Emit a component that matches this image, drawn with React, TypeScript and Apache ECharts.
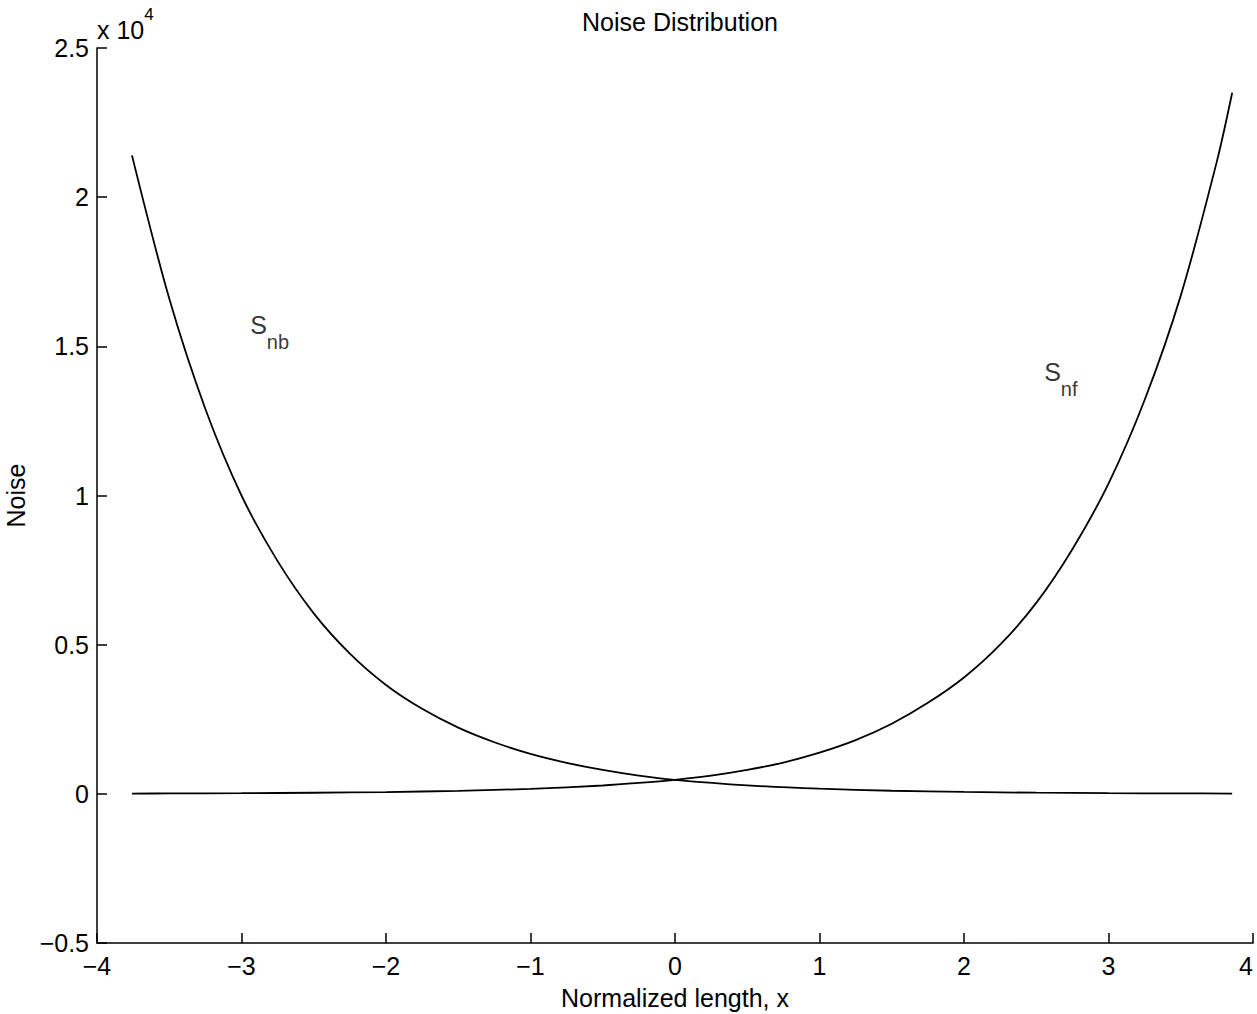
import React, { useEffect, useRef } from "react";
import * as echarts from "echarts";

const xTicks = [-4, -3, -2, -1, 0, 1, 2, 3, 4];
const yTicks = [-5000, 0, 5000, 10000, 15000, 20000, 25000];

// Snb (backward noise)
const snbX = [-3.758, -3.5, -3.25, -3.0, -2.75, -2.5, -2.25, -2.0, -1.75, -1.5, -1.25, -1.0, -0.75, -0.5, -0.25, 0, 0.5, 1.0, 1.5, 2.0, 2.5, 3.0, 3.5, 3.856];
const snbY = [21400, 16600, 12900, 10000, 7800, 6050, 4700, 3650, 2850, 2220, 1730, 1340, 1040, 800, 610, 470, 285, 172, 104, 63, 38, 23, 14, 10];

// Snf (forward noise)
const snfX = [-3.758, -3.5, -3.0, -2.5, -2.0, -1.5, -1.0, -0.5, -0.25, 0, 0.25, 0.5, 0.75, 1.0, 1.25, 1.5, 1.75, 2.0, 2.25, 2.5, 2.75, 3.0, 3.25, 3.5, 3.75, 3.856];
const snfY = [10, 13, 22, 37, 60, 100, 168, 280, 365, 470, 610, 800, 1050, 1380, 1800, 2350, 3050, 3900, 5000, 6400, 8200, 10400, 13200, 16700, 21200, 23500];

const labelPoints = [
  { name: "nb", x: -2.94, y: 15470 },
  { name: "nf", x: 2.555, y: 13890 },
];

const FONT = "'Liberation Sans', Arial, Helvetica, sans-serif";
const FS = 25;
const fmt = (s: string) => s.replace("-", "\u2212");

export default function App() {
  const ref = useRef<HTMLDivElement>(null);
  useEffect(() => {
    if (!ref.current) return;
    const chart = echarts.init(ref.current, undefined, { renderer: "svg" });
    const axisCommon = {
      type: "value" as const,
      axisLine: { show: true, onZero: false, lineStyle: { color: "#000", width: 1.5 } },
      axisTick: { show: true, inside: true, length: 10, lineStyle: { color: "#000", width: 1.5 } },
      splitLine: { show: false },
      axisLabel: { color: "#000", fontSize: FS, fontFamily: FONT },
      nameTextStyle: { color: "#000", fontSize: FS, fontFamily: FONT },
    };
    chart.setOption({
      animation: false,
      backgroundColor: "#fff",
      title: {
        text: "Noise Distribution",
        left: 675,
        top: 4,
        textAlign: "center",
        textStyle: { color: "#000", fontSize: FS, fontWeight: "normal", fontFamily: FONT },
      },
      grid: { left: 97, right: 4, top: 48, bottom: 71, containLabel: false, outerBoundsMode: "none" },
      xAxis: {
        ...axisCommon,
        min: xTicks[0],
        max: xTicks[xTicks.length - 1],
        interval: 1,
        name: "Normalized length, x",
        nameLocation: "middle",
        nameGap: 42,
        axisLabel: {
          ...axisCommon.axisLabel,
          margin: 10,
          alignMaxLabel: "right",
          formatter: (v: number) => fmt(String(v)),
        },
      },
      yAxis: {
        ...axisCommon,
        min: yTicks[0],
        max: yTicks[yTicks.length - 1],
        interval: 5000,
        name: "Noise",
        nameLocation: "middle",
        nameGap: 67,
        axisLabel: { ...axisCommon.axisLabel, margin: 8, formatter: (v: number) => fmt(String(v / 10000)) },
      },
      graphic: [
        {
          type: "text",
          left: 97,
          top: 6,
          style: {
            text: "{a|x 10}{b|4}",
            rich: {
              a: { fontSize: FS, fontFamily: FONT, fill: "#000", lineHeight: 36, verticalAlign: "bottom" },
              b: { fontSize: 17, fontFamily: FONT, fill: "#000", lineHeight: 36, verticalAlign: "top" },
            },
          },
        },
      ],
      series: [
        {
          type: "line",
          name: "Snb",
          data: snbX.map((x, i) => [x, snbY[i]]),
          showSymbol: false,
          smooth: 0.3,
          lineStyle: { color: "#000", width: 1.8 },
        },
        {
          type: "line",
          name: "Snf",
          data: snfX.map((x, i) => [x, snfY[i]]),
          showSymbol: false,
          smooth: 0.3,
          lineStyle: { color: "#000", width: 1.8 },
        },
        {
          type: "scatter",
          data: labelPoints.map((p) => ({ value: [p.x, p.y], name: p.name })),
          symbolSize: 0,
          label: {
            show: true,
            position: "right",
            distance: 0,
            formatter: (p: any) => "{a|S}{b|" + p.name + "}",
            rich: {
              a: { fontSize: FS, fontFamily: FONT, color: "#000", lineHeight: 40, verticalAlign: "top" },
              b: { fontSize: 20, fontFamily: FONT, color: "#000", lineHeight: 40, verticalAlign: "bottom" },
            },
          },
        },
      ],
    });
    return () => chart.dispose();
  }, []);
  return <div ref={ref} style={{ position: "absolute", left: 0, top: 0, width: 1257, height: 1014 }} />;
}
